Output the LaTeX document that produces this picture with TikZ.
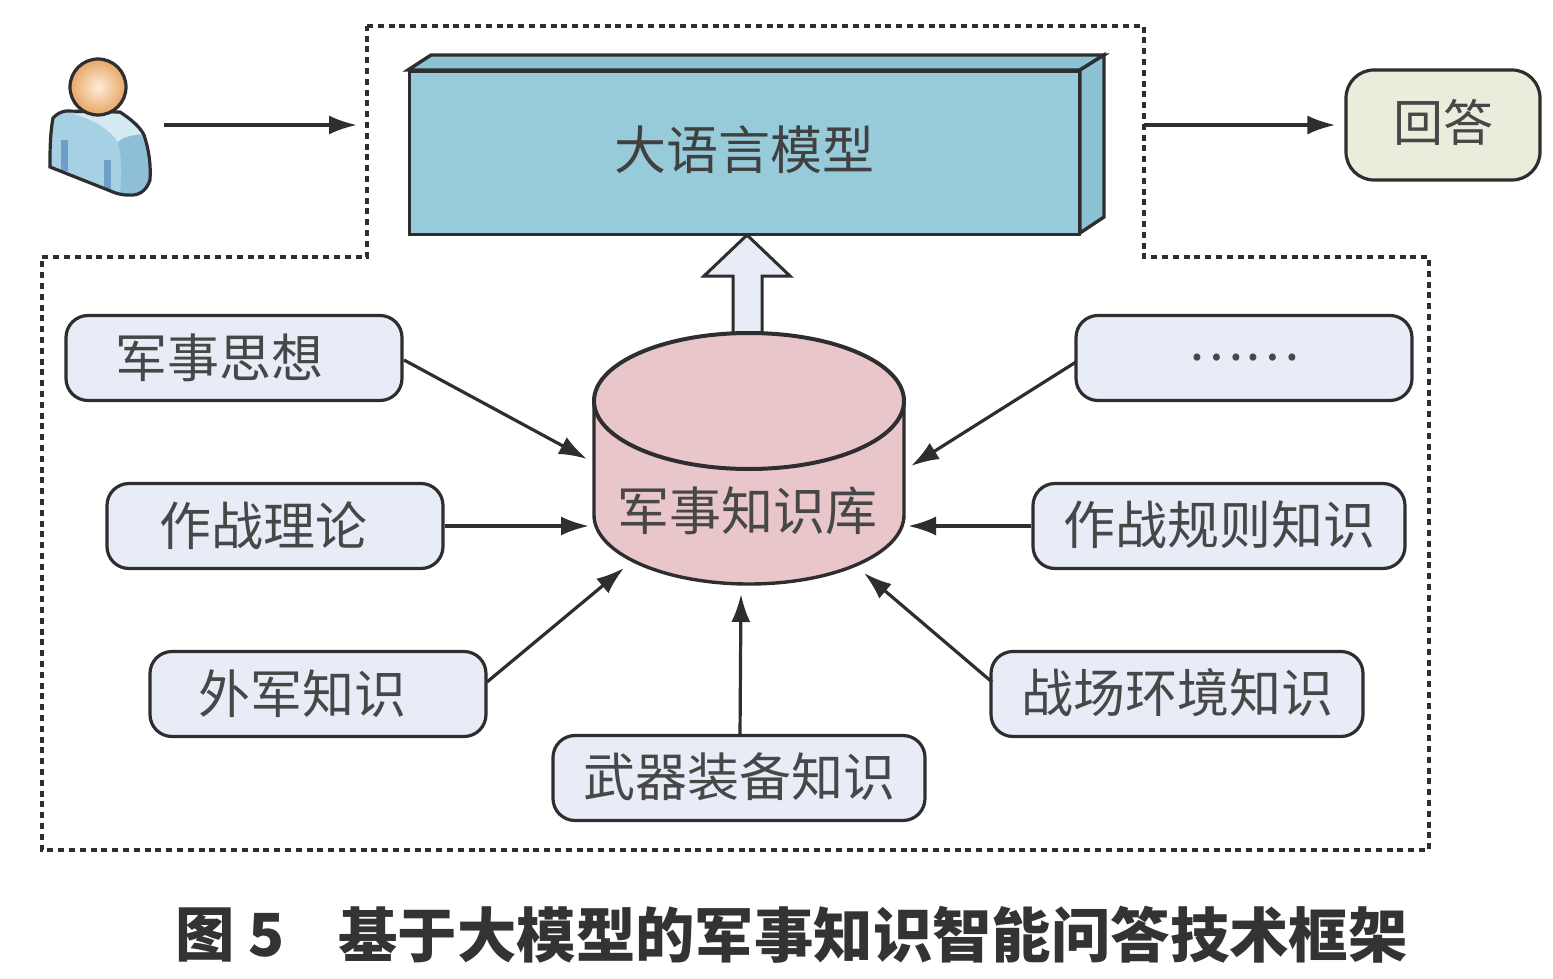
\documentclass[tikz,border=0pt]{standalone}
\usepackage{fontspec}
\setmainfont{Liberation Sans}
\newfontfamily\cjk{Noto Sans CJK SC}
\usetikzlibrary{arrows.meta}
\definecolor{kbox}{HTML}{E8ECF6}
\definecolor{lineink}{HTML}{2E2E30}
\definecolor{teal1}{HTML}{97CBD9}
\definecolor{teal2}{HTML}{8CC3D2}
\definecolor{pinkdb}{HTML}{E9C6CA}
\definecolor{ansbox}{HTML}{E8EEDB}
\definecolor{bodyblue}{HTML}{A6D0E4}
\definecolor{bodylight}{HTML}{D4EAF1}
\definecolor{bodydark}{HTML}{8FBFD8}
\definecolor{stripe}{HTML}{6F9FC8}
\tikzset{
  kn/.style={draw=lineink,line width=1.6pt,fill=kbox,rounded corners=11pt,minimum width=168pt,minimum height=42.5pt,inner sep=0pt,font=\cjk\fontsize{26}{26}\selectfont,text=black!72},
  arr/.style={draw=lineink,line width=1.6pt,-{Latex[length=14pt,width=9.5pt]}},
  dashb/.style={draw=lineink,line width=1.6pt,dash pattern=on 3pt off 2.4pt},
  edgeink/.style={draw=lineink,line width=1.7pt},
  capt/.style={inner sep=0pt,anchor=west,font=\cjk\bfseries\fontsize{29.7}{30}\selectfont,text=black!80}
}
\begin{document}
\begin{tikzpicture}[x=0.5pt,y=-0.5pt]
\useasboundingbox (0,0) rectangle (1553,979);
% dashed frame
\draw[dashb] (367,26) -- (1144,26) -- (1144,257) -- (1429,257) -- (1429,850) -- (42,850) -- (42,257) -- (367,257) -- cycle;
% LLM box
\draw[edgeink,fill=teal2] (408,70) -- (431,55) -- (1104,55) -- (1080,70) -- cycle;
\draw[edgeink,fill=teal2] (1080,70) -- (1104,55) -- (1104,217) -- (1080,233) -- cycle;
\node[edgeink,fill=teal1,minimum width=335pt,minimum height=81.5pt,inner sep=0pt,anchor=north west,font=\cjk\fontsize{26}{26}\selectfont,text=black!75] (llm) at (408,70) {\raisebox{6pt}{大语言模型}};
% up arrow
\coordinate (uptip) at (747,235);
\draw[edgeink,line width=1.5pt,fill=kbox] (733,333) -- (733,276) -- (704,276) -- (uptip) -- (790,276) -- (762,276) -- (762,333);
% database
\path[edgeink,fill=pinkdb] (594,402) -- (594,515) arc[start angle=180,end angle=0,x radius=155,y radius=69] -- (904,402) -- cycle;
\draw[edgeink,line width=2pt,fill=pinkdb] (749,401) ellipse[x radius=155,y radius=68];
\node[font=\cjk\fontsize{26}{26}\selectfont,text=black!72,inner sep=0pt] (db) at (747,511) {军事知识库};
% knowledge nodes
\node[kn] (a) at (234,358) {\raisebox{-2.5pt}{\hspace{-15pt}军事思想}};
\node[kn] (b) at (275,526) {\raisebox{-0.5pt}{\hspace{-12pt}作战理论}};
\node[kn] (c) at (318,694) {\raisebox{-1pt}{\hspace{-16pt}外军知识}};
\node[kn,minimum width=186pt] (d) at (739,778) {\raisebox{3.5pt}{武器装备知识}};
\node[kn,minimum width=186pt] (e) at (1177,694) {\raisebox{3.5pt}{战场环境知识}};
\node[kn,minimum width=186pt] (f) at (1219,526) {\raisebox{3.5pt}{作战规则知识}};
\node[kn] (g) at (1244,358) {\raisebox{1pt}{……}};
% connectors into database
\coordinate (ta) at (587,459);
\coordinate (tb) at (589,526);
\coordinate (tc) at (624,568);
\coordinate (td) at (741,594);
\coordinate (te) at (864,573);
\coordinate (tf) at (908,526);
\coordinate (tg) at (911,466);
\draw[arr] (404,360) -- (ta);
\draw[arr] (b.east) -- (tb);
\draw[arr] (487,682) -- (tc);
\draw[arr] (740,736) -- (td);
\draw[arr] (992,682) -- (te);
\draw[arr] (f.west) -- (tf);
\draw[arr] (1076,362) -- (tg);
% person
\path[fill=bodyblue] (53,118) .. controls (57,114) and (60,112) .. (66,111) -- (120,112) .. controls (132,120) and (140,127) .. (144,135) .. controls (149,150) and (151,165) .. (150,180) .. controls (146,192) and (138,196) .. (128,195) .. controls (120,195) and (115,193) .. (108,190) -- (50,167) .. controls (50,150) and (50,135) .. (53,118) -- cycle;
\fill[bodylight] (74,114) -- (120,114) .. controls (130,120) and (138,127) .. (142,134) .. controls (130,135) and (122,138) .. (118,142) .. controls (110,130) and (95,120) .. (74,114) -- cycle;
\fill[bodydark] (118,142) .. controls (122,138) and (130,135) .. (143,135) .. controls (149,150) and (150,165) .. (149,180) .. controls (145,192) and (135,195) .. (120,193) .. controls (122,175) and (122,158) .. (118,142) -- cycle;
\fill[stripe] (61,140) rectangle (68,171);
\fill[stripe] (104,160) rectangle (111,190);
\draw[edgeink,line width=1.6pt] (53,118) .. controls (57,114) and (60,112) .. (66,111) -- (120,112) .. controls (132,120) and (140,127) .. (144,135) .. controls (149,150) and (151,165) .. (150,180) .. controls (146,192) and (138,196) .. (128,195) .. controls (120,195) and (115,193) .. (108,190) -- (50,167) .. controls (50,150) and (50,135) .. (53,118) -- cycle;
\node[circle,draw=lineink,line width=1.6pt,minimum size=28pt,inner sep=0pt,shading=radial,inner color=white!85!orange,outer color=orange!45!brown!70!white] (head) at (98,87) {};
\coordinate (userout) at (164,125);
\coordinate (llmin) at (357,125);
\draw[arr] (userout) -- (llmin);
% answer
\node[draw=lineink,line width=1.6pt,fill=ansbox,rounded corners=14pt,minimum width=97pt,minimum height=55pt,inner sep=0pt,font=\cjk\fontsize{25}{25}\selectfont,text=black!72] (ans) at (1443,125) {\raisebox{5pt}{回答}};
\coordinate (llmout) at (1144,125);
\draw[arr,shorten >=4.5pt] (llmout) -- (ans.west);
% caption
\node[capt] (cap1) at (175,935) {图 5};
\node[capt] (cap2) at (338,935) {基于大模型的军事知识智能问答技术框架};
\end{tikzpicture}
\end{document}
